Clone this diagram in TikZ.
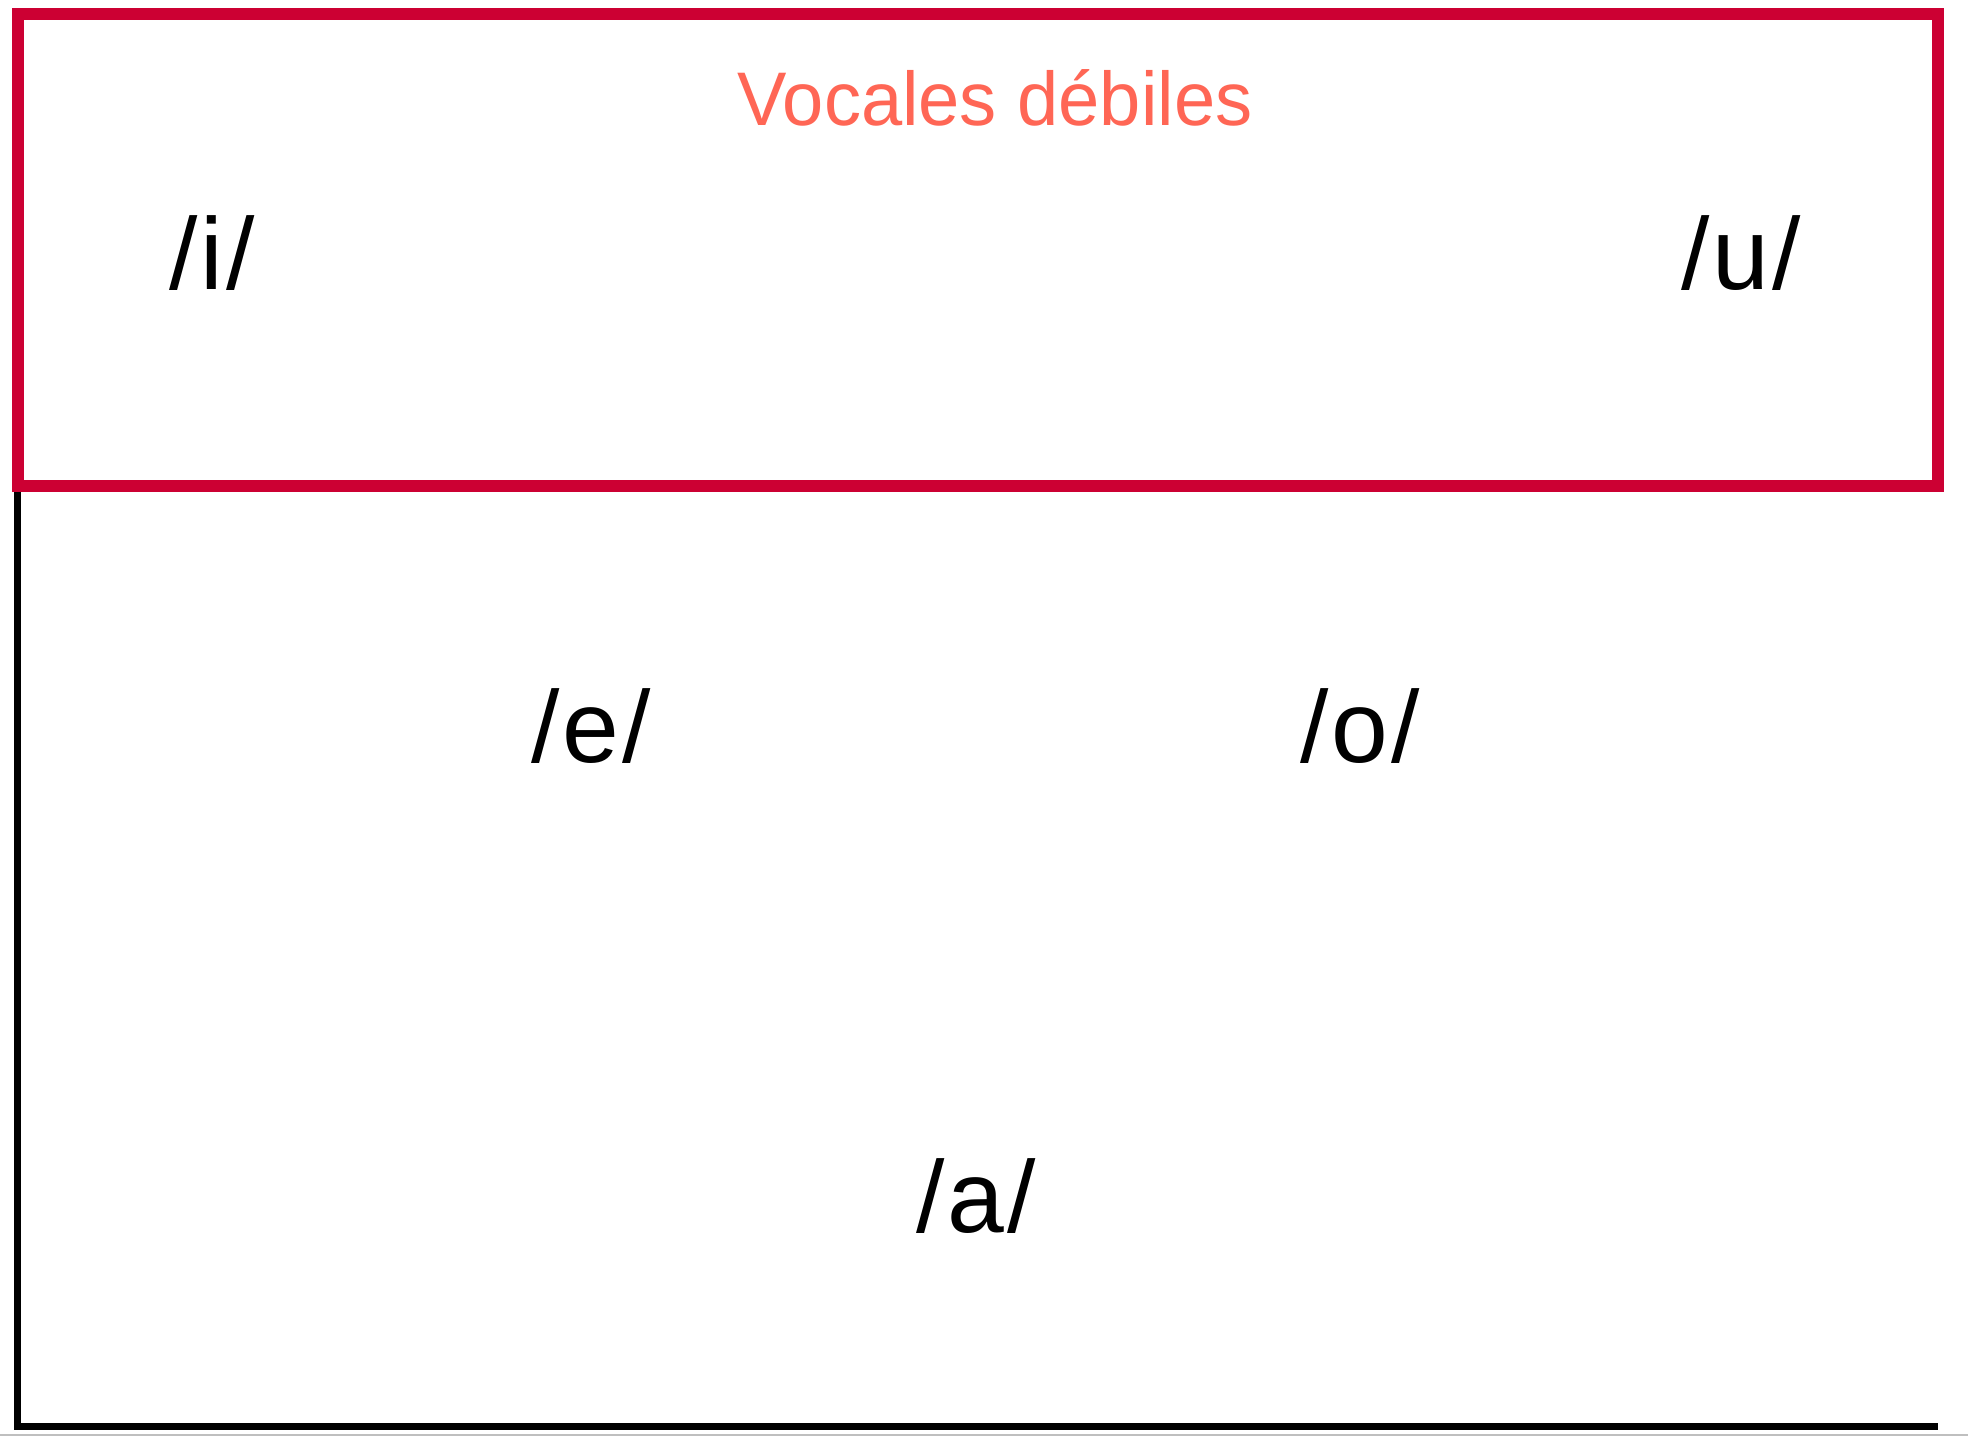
\documentclass[tikz,border=0pt]{standalone}
\usepackage{fontspec}
\setmainfont{Liberation Sans}
\newfontfamily\titlefont{Liberation Sans}
\definecolor{boxred}{HTML}{CC0033}
\definecolor{titlered}{HTML}{FF6655}
\newcommand{\phon}[1]{/\kern1.5pt#1\kern1.5pt/}
\begin{document}
\begin{tikzpicture}[x=0.5pt,y=-0.5pt,
  vowel/.style={anchor=base,font=\fontsize{51}{55}\selectfont,text=black,inner sep=0pt},
  title/.style={anchor=base,font=\titlefont\fontsize{38}{42}\selectfont,text=titlered,inner sep=0pt},
  redbox/.style={draw=boxred,line width=6pt},
  axis/.style={draw=black,line width=3.5pt,line cap=butt,line join=miter}]
\useasboundingbox[fill=white] (0,0) rectangle (1968,1436);
\draw[gray!50,line width=1pt] (0,1434.5) -- (1968,1434.5);
\coordinate (top) at (17.5,486);
\coordinate (corner) at (17.5,1426);
\coordinate (end) at (1938,1426);
\draw[axis] (top) -- (corner) -- (end);
\draw[redbox] (18,14) rectangle (1938,486);
\node[title] (t) at (995,125) {\scalebox{0.975}[1]{Vocales débiles}};
\node[vowel] (i) at (212,289) {\phon{i}};
\node[vowel] (u) at (1741,289) {\phon{u}};
\node[vowel] (e) at (591,762) {\phon{e}};
\node[vowel] (o) at (1360,762) {\phon{o}};
\node[vowel] (a) at (976,1232) {\phon{a}};
\end{tikzpicture}
\end{document}
